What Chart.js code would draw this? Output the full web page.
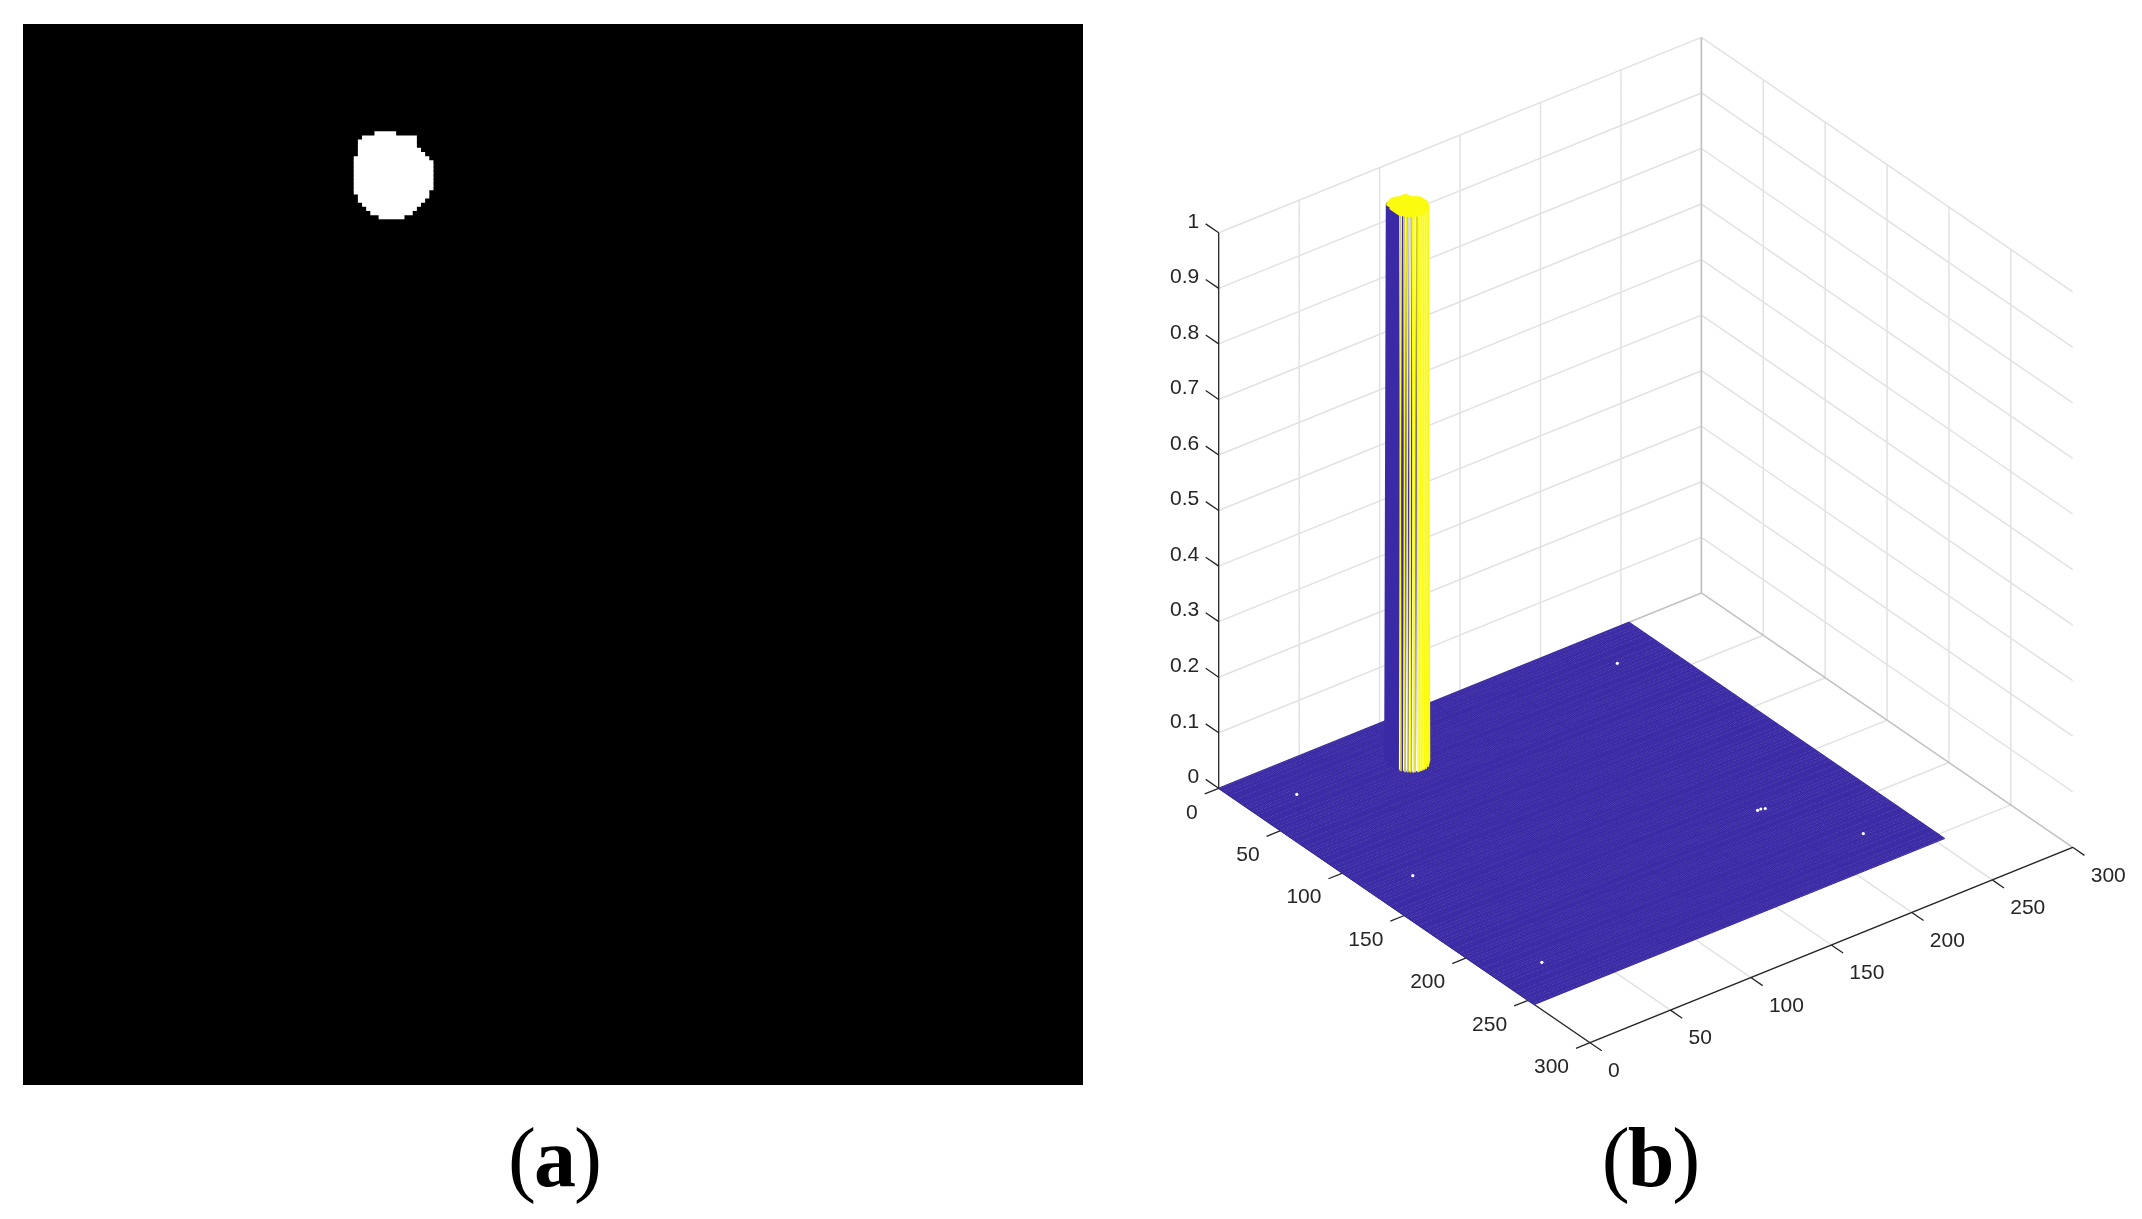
<!DOCTYPE html>
<html>
<head>
<meta charset="utf-8">
<script src="https://cdn.jsdelivr.net/npm/chart.js@4"></script>
<style>
  body { margin: 0; background: #fff; width: 2142px; height: 1219px; overflow: hidden; position: relative; }
  canvas { position: absolute; display: block; }
  #maskChart { left: 23px; top: 24px; background: #000; }
  #surfChart { left: 1100px; top: 0; }
  .cap { position: absolute; top: 1108px; font: 84px/100px "Liberation Serif", serif; letter-spacing: -2px; transform: translateX(-50%); color: #000; }
</style>
</head>
<body>
<canvas id="maskChart" width="1060" height="1061"></canvas>
<canvas id="surfChart" width="1042" height="1100"></canvas>
<div class="cap" style="left:554px">(<b>a</b>)</div>
<div class="cap" style="left:1650px">(<b>b</b>)</div>
<script>
// image is 256x256, blob given as one run of columns per row
var imageSize = 256;
var blobRows  = [26, 27, 28, 29, 30, 31, 32, 33, 34, 35, 36, 37, 38, 39, 40, 41, 42, 43, 44, 45, 46];
var blobStart = [85, 82, 81, 81, 81, 81, 80, 80, 80, 80, 80, 80, 80, 80, 80, 81, 81, 82, 83, 84, 86];
var blobEnd   = [89, 94, 94, 94, 95, 96, 97, 98, 98, 98, 98, 98, 98, 98, 97, 97, 96, 95, 94, 93, 91];

// small noise spots on the flat part of the surface
var speckRows = [27, 28, 123, 178, 178, 179, 226, 227];
var speckCols = [227, 27, 26, 198, 200, 202, 27, 226];

var horizTicks = [0, 50, 100, 150, 200, 250, 300];
var zTicks = [0, 0.1, 0.2, 0.3, 0.4, 0.5, 0.6, 0.7, 0.8, 0.9, 1];
var zLabels = ['0', '0.1', '0.2', '0.3', '0.4', '0.5', '0.6', '0.7', '0.8', '0.9', '1'];

var PURPLE = '#3a2aa5';
var YELLOW = '#fbfb10';
var GRID = '#e2e2e2';
var EDGE = '#c2c2c2';
var AXIS = '#262626';

// panel (a)
var rowLabels = [];
var rowRuns = [];
for (var i = 0; i < imageSize; i++) {
  rowLabels.push(i);
  rowRuns.push(null);
}
blobRows.forEach(function (r, k) {
  rowRuns[r] = [blobStart[k], blobEnd[k] + 1];
});

new Chart(document.getElementById('maskChart').getContext('2d'), {
  type: 'bar',
  data: {
    labels: rowLabels,
    datasets: [{ data: rowRuns, backgroundColor: '#fff', barPercentage: 1, categoryPercentage: 1, inflateAmount: 0.5 }]
  },
  options: {
    indexAxis: 'y',
    responsive: false,
    animation: false,
    devicePixelRatio: 1,
    layout: { autoPadding: false, padding: 0 },
    plugins: { legend: { display: false }, tooltip: { enabled: false } },
    scales: {
      x: { display: false, min: 0, max: imageSize },
      y: { display: false }
    }
  }
});

// panel (b): the 3D box is projected by hand onto a plain x/y scatter chart
var corner = { x: 1218.7, y: 788.3 };
var rowVec = { x: 371.3 / 300, y: 254.4 / 300 };
var colVec = { x: 482.7 / 300, y: -195.4 / 300 };
var zSpan = 555.5;

function project(row, col, z) {
  return {
    x: corner.x + row * rowVec.x + col * colVec.x,
    y: corner.y + row * rowVec.y + col * colVec.y - z * zSpan
  };
}

// the surface plot counts pixels from 1, the blob arrays from 0
function blobPoint(row, col, z) {
  return project(row + 1, col + 1, z);
}

function addSeg(list, p, q) {
  list.push(p, q, { x: NaN, y: NaN });
}

var wallGrid = [], backEdges = [], axisLines = [], meshRows = [], meshCols = [], specks = [];
var purpleEdges = [], yellowEdges = [], topCap = [];

horizTicks.forEach(function (t) {
  if (t > 0) {
    addSeg(wallGrid, project(0, t, 0), project(0, t, 1));
    addSeg(wallGrid, project(t, 0, 0), project(t, 300, 0));
  }
  if (t < 300) {
    addSeg(wallGrid, project(t, 300, 0), project(t, 300, 1));
    addSeg(wallGrid, project(0, t, 0), project(300, t, 0));
  }
  addSeg(axisLines, project(t, 0, 0), project(t, -8.7, 0));
  addSeg(axisLines, project(300, t, 0), project(309.5, t, 0));
});
zTicks.forEach(function (z) {
  if (z > 0) {
    addSeg(wallGrid, project(0, 0, z), project(0, 300, z));
    addSeg(wallGrid, project(0, 300, z), project(300, 300, z));
  }
  addSeg(axisLines, project(0, 0, z), project(-10.5, 0, z));
});
addSeg(backEdges, project(0, 300, 0), project(0, 300, 1));
addSeg(backEdges, project(0, 0, 0), project(0, 300, 0));
addSeg(backEdges, project(0, 300, 0), project(300, 300, 0));
addSeg(axisLines, project(0, 0, 0), project(0, 0, 1));
addSeg(axisLines, project(0, 0, 0), project(300, 0, 0));
addSeg(axisLines, project(300, 0, 0), project(300, 300, 0));

// flat part of the mesh, one line per row and per column
for (var n = 0; n < imageSize; n++) {
  addSeg(meshRows, project(n, 0, 0), project(n, imageSize - 1, 0));
  addSeg(meshCols, project(0, n, 0), project(imageSize - 1, n, 0));
}
speckRows.forEach(function (r, k) {
  specks.push(project(r, speckCols[k], 0));
});

// white faces hide what is behind the column, each row is one quad
var faces = blobRows.map(function (r, k) {
  return {
    data: [blobPoint(r, blobStart[k], 0), blobPoint(r, blobEnd[k], 0), blobPoint(r, blobEnd[k], 1), blobPoint(r, blobStart[k], 1)],
    showLine: true, borderWidth: 1, borderColor: '#fff', backgroundColor: '#fff', fill: 'shape', pointRadius: 0
  };
});

// rising edges on the left side are purple, falling edges on the front are yellow
blobRows.forEach(function (r, k) {
  addSeg(purpleEdges, blobPoint(r, blobStart[k] - 1, 0), blobPoint(r, blobStart[k], 1));
  addSeg(topCap, blobPoint(r, blobStart[k], 1), blobPoint(r, blobEnd[k], 1));
});
for (var c = 80; c <= 98; c++) {
  var last = -1, first = -1;
  blobRows.forEach(function (r, k) {
    if (blobStart[k] <= c && c <= blobEnd[k]) {
      if (first < 0) first = r;
      last = r;
    }
  });
  addSeg(yellowEdges, blobPoint(last, c, 1), blobPoint(last + 1, c, 0));
  addSeg(topCap, blobPoint(first, c, 1), blobPoint(last, c, 1));
}

function lineSet(points, color, width) {
  return { data: points, showLine: true, borderColor: color, borderWidth: width, pointRadius: 0, fill: false };
}

// listed back to front, chart.js paints the first dataset last so it gets reversed
var layers = [
  lineSet(wallGrid, GRID, 1.5),
  lineSet(backEdges, EDGE, 1.6),
  lineSet(axisLines, AXIS, 1.3),
  lineSet(meshRows, PURPLE, 1.1),
  lineSet(meshCols, PURPLE, 1.1),
  { data: specks, showLine: false, pointRadius: 1.6, pointBackgroundColor: '#fff', pointBorderWidth: 0 }
].concat(faces, [
  lineSet(purpleEdges, PURPLE, 1.5),
  lineSet(yellowEdges, YELLOW, 1.35),
  lineSet(topCap, YELLOW, 2.4)
]);

var tickText = {
  id: 'tickText',
  afterDraw: function (chart) {
    var ctx = chart.ctx, sx = chart.scales.x, sy = chart.scales.y;
    function put(text, p, dx, dy, align) {
      ctx.textAlign = align;
      ctx.fillText(text, sx.getPixelForValue(p.x + dx), sy.getPixelForValue(p.y + dy));
    }
    ctx.save();
    ctx.font = '21px "Liberation Sans"';
    ctx.fillStyle = AXIS;
    ctx.textBaseline = 'middle';
    zTicks.forEach(function (z, k) { put(zLabels[k], project(0, 0, z), -19.5, -11, 'right'); });
    horizTicks.forEach(function (t) {
      put(String(t), project(t, 0, 0), -21, 24.5, 'right');
      put(String(t), project(300, t, 0), 18, 28.5, 'left');
    });
    ctx.restore();
  }
};

new Chart(document.getElementById('surfChart').getContext('2d'), {
  type: 'scatter',
  data: { datasets: layers.reverse() },
  options: {
    responsive: false,
    animation: false,
    devicePixelRatio: 1,
    layout: { autoPadding: false, padding: 0 },
    plugins: { legend: { display: false }, tooltip: { enabled: false } },
    scales: {
      x: { display: false, min: 1100, max: 2142 },
      y: { display: false, min: 0, max: 1100, reverse: true }
    }
  },
  plugins: [tickText]
});
</script>
</body>
</html>
